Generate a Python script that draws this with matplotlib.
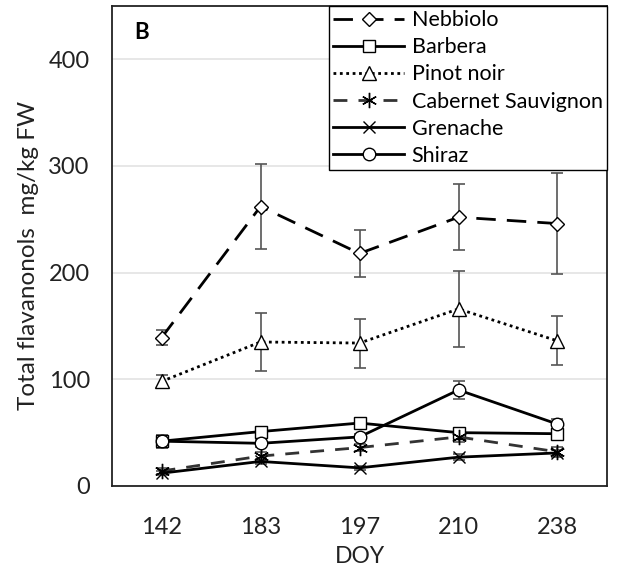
import numpy as np
import matplotlib.pyplot as plt
from matplotlib.lines import Line2D

plt.rcParams['font.family'] = ['Lato', 'DejaVu Sans']

# data
doy = ['142', '183', '197', '210', '238']
nebbiolo = [139, 262, 218, 252, 246]
nebbiolo_err = [7, 40, 22, 31, 47]
barbera = [42, 51, 59, 50, 49]
barbera_err = [6, 3, 3, 4, 4]
pinot = [98, 135, 134, 166, 136]
pinot_err = [6, 27, 23, 36, 23]
cabernet = [14, 28, 36, 46, 32]
cabernet_err = [3, 4, 3, 5, 5]
grenache = [12, 23, 17, 27, 31]
grenache_err = [2, 2, 2, 3, 3]
shiraz = [42, 40, 46, 90, 58]
shiraz_err = [5, 3, 3, 8, 5]

series = [
    ('Nebbiolo', nebbiolo, nebbiolo_err, (0, (7, 4)), 'D', 7, 'black'),
    ('Barbera', barbera, barbera_err, '-', 's', 8, 'black'),
    ('Pinot noir', pinot, pinot_err, (0, (1, 1.3)), '^', 10, 'black'),
    ('Cabernet Sauvignon', cabernet, cabernet_err, (0, (5, 4)), (6, 2, 0), 11, '#333333'),
    ('Grenache', grenache, grenache_err, '-', 'x', 9, 'black'),
    ('Shiraz', shiraz, shiraz_err, '-', 'o', 9, 'black'),
]

fig = plt.figure(figsize=(6.35, 5.7), dpi=100)
ax = fig.add_axes([0.1764, 0.1474, 0.7795, 0.8421])
x = np.arange(len(doy))

handles = []
for name, vals, err, ls, mk, ms, col in series:
    ax.errorbar(x, vals, yerr=err, fmt='none', ecolor='#555555', elinewidth=1.2,
                capsize=4.5, capthick=1.2, zorder=2)
    ax.plot(x, vals, linestyle=ls, color=col, lw=2, marker=mk, markersize=ms,
            markerfacecolor='white', markeredgecolor='black', markeredgewidth=1.0,
            zorder=3)
    handles.append(Line2D([], [], linestyle=ls, color=col, lw=2, marker=mk,
                          markersize=ms, markerfacecolor='white',
                          markeredgecolor='black', markeredgewidth=1.0,
                          label=name))

ax.set_xlim(-0.5, 4.5)
ax.set_ylim(0, 450)
ax.set_yticks([0, 100, 200, 300, 400])
ax.set_xticks(x)
ax.set_xticklabels(doy)
ax.tick_params(length=0, labelsize=17, colors='#222222')
ax.tick_params(axis='y', pad=16)
ax.tick_params(axis='x', pad=22)
ax.yaxis.grid(True, color='#e3e3e3', lw=1.2)
ax.set_axisbelow(True)
for s in ax.spines.values():
    s.set_linewidth(1.3)
    s.set_color('#222222')

ax.set_ylabel('Total flavanonols  mg/kg FW', fontsize=17.5, color='#222222')
ax.yaxis.set_label_coords(-0.148, 0.48)
ax.set_xlabel('DOY', fontsize=16.5, color='#222222', labelpad=6)
ax.text(0.045, 0.945, 'B', transform=ax.transAxes, fontsize=16, fontweight='bold',
        ha='left', va='center')

leg = ax.legend(handles=handles, loc='upper right', bbox_to_anchor=(1.0, 1.0),
                fontsize=15.5, handlelength=3.3, handletextpad=0.35,
                labelspacing=0.33, borderpad=0.2, borderaxespad=0,
                frameon=True, fancybox=False, framealpha=1)
leg.get_frame().set_edgecolor('black')
leg.get_frame().set_linewidth(1.0)

fig.savefig('out.png', dpi=100)
